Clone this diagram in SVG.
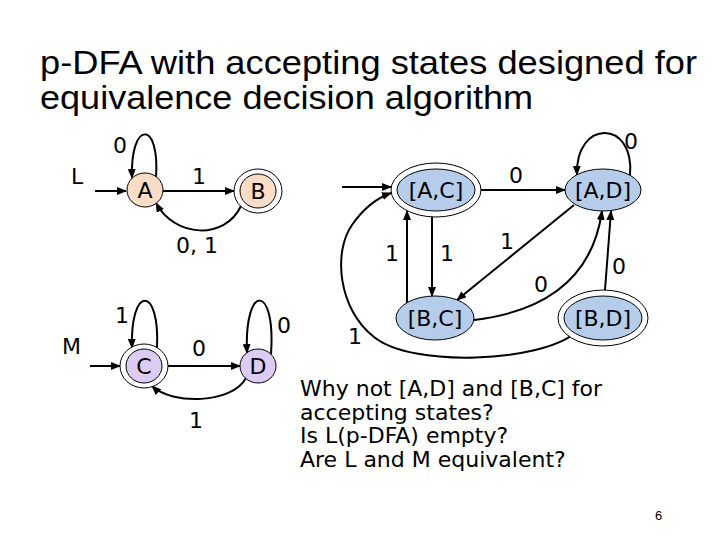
<svg xmlns="http://www.w3.org/2000/svg" width="720" height="540" viewBox="0 0 720 540">
<defs>
<marker id="ah" markerUnits="userSpaceOnUse" markerWidth="10" markerHeight="8" refX="9" refY="4" orient="auto">
<path d="M0,0 L10,4 L0,8 Z" fill="#000"/>
</marker>
<style>
.e{fill:none;stroke:#000;stroke-width:2;marker-end:url(#ah)}
.o{fill:#fff;stroke:#000;stroke-width:1}
.pa{fill:#FADDC6;stroke:#000;stroke-width:1}
.pb{fill:#DCCCF4;stroke:#000;stroke-width:1}
.pc{fill:#B5CDEA;stroke:#000;stroke-width:1}
.t{font-family:"DejaVu Sans",Verdana,sans-serif;font-size:22px;fill:#000}
.n{font-family:"DejaVu Sans",Verdana,sans-serif;font-size:22px;fill:#000;text-anchor:middle}
.ti{font-family:"Liberation Sans",Arial,sans-serif;font-size:34px;fill:#000}
.b{font-family:"DejaVu Sans",Verdana,sans-serif;font-size:22px;fill:#000}
</style>
</defs>
<rect width="720" height="540" fill="#fff"/>
<text class="ti" x="40" y="74" textLength="657" lengthAdjust="spacingAndGlyphs">p-DFA with accepting states designed for</text>
<text class="ti" x="40" y="109" textLength="493" lengthAdjust="spacingAndGlyphs">equivalence decision algorithm</text>

<g id="connectors">
<path class="e" d="M95,191 L126,191"/>
<path class="e" d="M156,177 C160,120 130,120 132,178"/>
<path class="e" d="M163,191 L234,191"/>
<path class="e" d="M241,206 C225,240 175,238 156,203"/>
<path class="e" d="M90,366 L120,366"/>
<path class="e" d="M157,348 C160,285 130,285 132,348"/>
<path class="e" d="M168,366 L240,366"/>
<path class="e" d="M271,354 C276,283 244,283 247,353"/>
<path class="e" d="M246,378 C232,404 172,405 152,386"/>
<path class="e" d="M342,187 L391,187"/>
<path class="e" d="M481,190 L565,190"/>
<path class="e" d="M630,175 C635,119 575,119 577,175"/>
<path class="e" d="M432,217 L432,296"/>
<path class="e" d="M407,303 L407,211"/>
<path class="e" d="M574,205 L457,300"/>
<path class="e" d="M474,320 C540,312 592,282 602,211"/>
<path class="e" d="M605,290 L611,211"/>
<path class="e" d="M575,333 C540,362 412,368 374,337 C338,309 333,252 352,225 C363,209 377,198 391,193"/>
</g>

<g id="edge-labels">
<text class="t" x="113" y="153">0</text>
<text class="t" x="192" y="184">1</text>
<text class="t" x="176" y="253">0, 1</text>
<text class="t" x="115" y="323">1</text>
<text class="t" x="192" y="356">0</text>
<text class="t" x="277" y="333">0</text>
<text class="t" x="189" y="428">1</text>
<text class="t" x="509" y="183">0</text>
<text class="t" x="624" y="149">0</text>
<text class="t" x="385" y="261">1</text>
<text class="t" x="440" y="261">1</text>
<text class="t" x="500" y="249">1</text>
<text class="t" x="534" y="292">0</text>
<text class="t" x="612" y="274">0</text>
<text class="t" x="348" y="344">1</text>
<text class="t" x="71" y="184">L</text>
<text class="t" x="62" y="354">M</text>
</g>

<g id="A"><ellipse class="pa" cx="145" cy="190" rx="18" ry="17"/><text class="n" x="145" y="198">A</text></g>
<g id="B"><ellipse class="o" cx="258" cy="191" rx="24" ry="22"/><ellipse class="pa" cx="258" cy="191" rx="18" ry="17"/><text class="n" x="258" y="199">B</text></g>
<g id="C"><ellipse class="o" cx="144" cy="366" rx="24" ry="22"/><ellipse class="pb" cx="144" cy="366" rx="18" ry="17"/><text class="n" x="144" y="374">C</text></g>
<g id="D"><ellipse class="pb" cx="258" cy="366" rx="18" ry="17"/><text class="n" x="258" y="374">D</text></g>
<g id="AC"><ellipse class="o" cx="436" cy="190" rx="45" ry="27"/><ellipse class="pc" cx="436" cy="190" rx="39" ry="21"/><text class="n" x="436" y="198">[A,C]</text></g>
<g id="AD"><ellipse class="pc" cx="603" cy="190" rx="38" ry="21"/><text class="n" x="603" y="198">[A,D]</text></g>
<g id="BC"><ellipse class="pc" cx="435" cy="318" rx="39" ry="22"/><text class="n" x="435" y="326">[B,C]</text></g>
<g id="BD"><ellipse class="o" cx="603" cy="318" rx="45" ry="28"/><ellipse class="pc" cx="603" cy="318" rx="39" ry="22"/><text class="n" x="603" y="326">[B,D]</text></g>

<g id="notes">
<text class="b" x="300" y="396">Why not [A,D] and [B,C] for</text>
<text class="b" x="300" y="419.5">accepting states?</text>
<text class="b" x="300" y="443">Is L(p-DFA) empty?</text>
<text class="b" x="300" y="466.5">Are L and M equivalent?</text>
</g>
<text x="655" y="520" font-family="Liberation Sans, Arial, sans-serif" font-size="13" fill="#000">6</text>
</svg>
